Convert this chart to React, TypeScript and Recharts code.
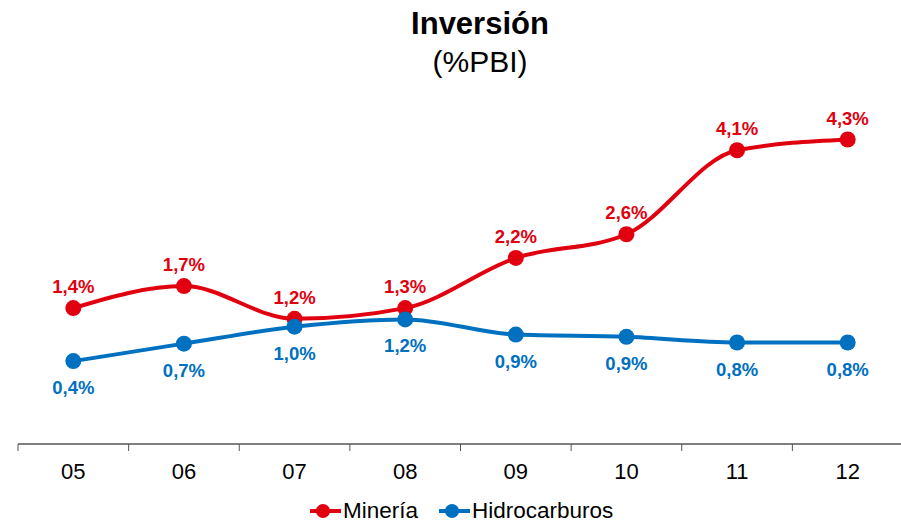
import React from "react";
import { LineChart, Line, XAxis, YAxis, LabelList } from "recharts";

const years = ["05", "06", "07", "08", "09", "10", "11", "12"];
const mineria = [1.31, 1.7, 1.12, 1.31, 2.2, 2.62, 4.11, 4.3];
const hidrocarburos = [0.37, 0.68, 0.98, 1.11, 0.84, 0.8, 0.7, 0.7];
const mineriaLabels = ["1,4%", "1,7%", "1,2%", "1,3%", "2,2%", "2,6%", "4,1%", "4,3%"];
const hidroLabels = ["0,4%", "0,7%", "1,0%", "1,2%", "0,9%", "0,9%", "0,8%", "0,8%"];

const data = years.map((year, i) => ({
  year,
  mineria: mineria[i],
  hidrocarburos: hidrocarburos[i],
}));

const RED = "#E1000F";
const BLUE = "#0070C0";
const FONT = "'Liberation Sans', Arial, Helvetica, sans-serif";

const CHART_W = 905;
const CHART_H = 524;
const MARGIN = { top: 122.6, right: 2, left: 18, bottom: 20 };
const BAND = (CHART_W - MARGIN.left - MARGIN.right) / years.length;

// tick label centered in band, tick mark on the band's left edge
const YearTick = (props: any) => {
  const { x, y, payload } = props;
  const axisY = y - 7;
  return (
    <g>
      <line x1={x - BAND / 2} x2={x - BAND / 2} y1={axisY} y2={axisY + 7} stroke="#555" strokeWidth={1} />
      <text x={x} y={axisY + 35} textAnchor="middle" fontSize={22} fill="#000" fontFamily={FONT}>
        {payload.value}
      </text>
    </g>
  );
};

const makeLabel = (labels: string[], color: string, dy: number) => (props: any) => {
  const { x, y, index } = props;
  return (
    <text x={x} y={y + dy} textAnchor="middle" fontSize={18.5} fontWeight="bold" fill={color} fontFamily={FONT}>
      {labels[index]}
    </text>
  );
};

const LegendItem = ({ color, text }: { color: string; text: string }) => (
  <div style={{ display: "flex", alignItems: "center" }}>
    <svg width={31} height={16} style={{ marginRight: 2 }}>
      <line x1={0} x2={31} y1={8} y2={8} stroke={color} strokeWidth={4} />
      <circle cx={13} cy={8} r={7} fill={color} />
    </svg>
    <span>{text}</span>
  </div>
);

export default function App() {
  return (
    <div
      style={{
        position: "absolute",
        left: 0,
        top: 0,
        width: 901,
        height: 524,
        overflow: "hidden",
        background: "#fff",
        fontFamily: FONT,
      }}
    >
      <div style={{ position: "absolute", left: 330, width: 300, top: 8, textAlign: "center", fontSize: 31, fontWeight: "bold", lineHeight: 1 }}>
        Inversión
      </div>
      <div style={{ position: "absolute", left: 330, width: 300, top: 47, textAlign: "center", fontSize: 30, lineHeight: 1 }}>
        (%PBI)
      </div>

      <LineChart width={CHART_W} height={CHART_H} data={data} margin={MARGIN}>
        <XAxis
          dataKey="year"
          scale="band"
          height={60}
          axisLine={{ stroke: "#000", strokeWidth: 1 }}
          tickLine={false}
          tickSize={7}
          tickMargin={0}
          tick={<YearTick />}
          interval={0}
        />
        <YAxis hide domain={[-1.1, 4.6]} allowDataOverflow />
        <Line
          dataKey="mineria"
          type="monotone"
          stroke={RED}
          strokeWidth={4}
          dot={{ r: 8, fill: RED, stroke: RED, strokeWidth: 0 }}
          isAnimationActive={false}
        >
          <LabelList dataKey="mineria" content={makeLabel(mineriaLabels, RED, -15)} />
        </Line>
        <Line
          dataKey="hidrocarburos"
          type="monotone"
          stroke={BLUE}
          strokeWidth={4}
          dot={{ r: 8, fill: BLUE, stroke: BLUE, strokeWidth: 0 }}
          isAnimationActive={false}
        >
          <LabelList dataKey="hidrocarburos" content={makeLabel(hidroLabels, BLUE, 33)} />
        </Line>
      </LineChart>

      <div
        style={{
          position: "absolute",
          top: 498,
          left: 310,
          display: "flex",
          gap: 21,
          fontSize: 22.5,
          lineHeight: "26px",
          color: "#000",
        }}
      >
        <LegendItem color={RED} text="Minería" />
        <LegendItem color={BLUE} text="Hidrocarburos" />
      </div>
    </div>
  );
}
